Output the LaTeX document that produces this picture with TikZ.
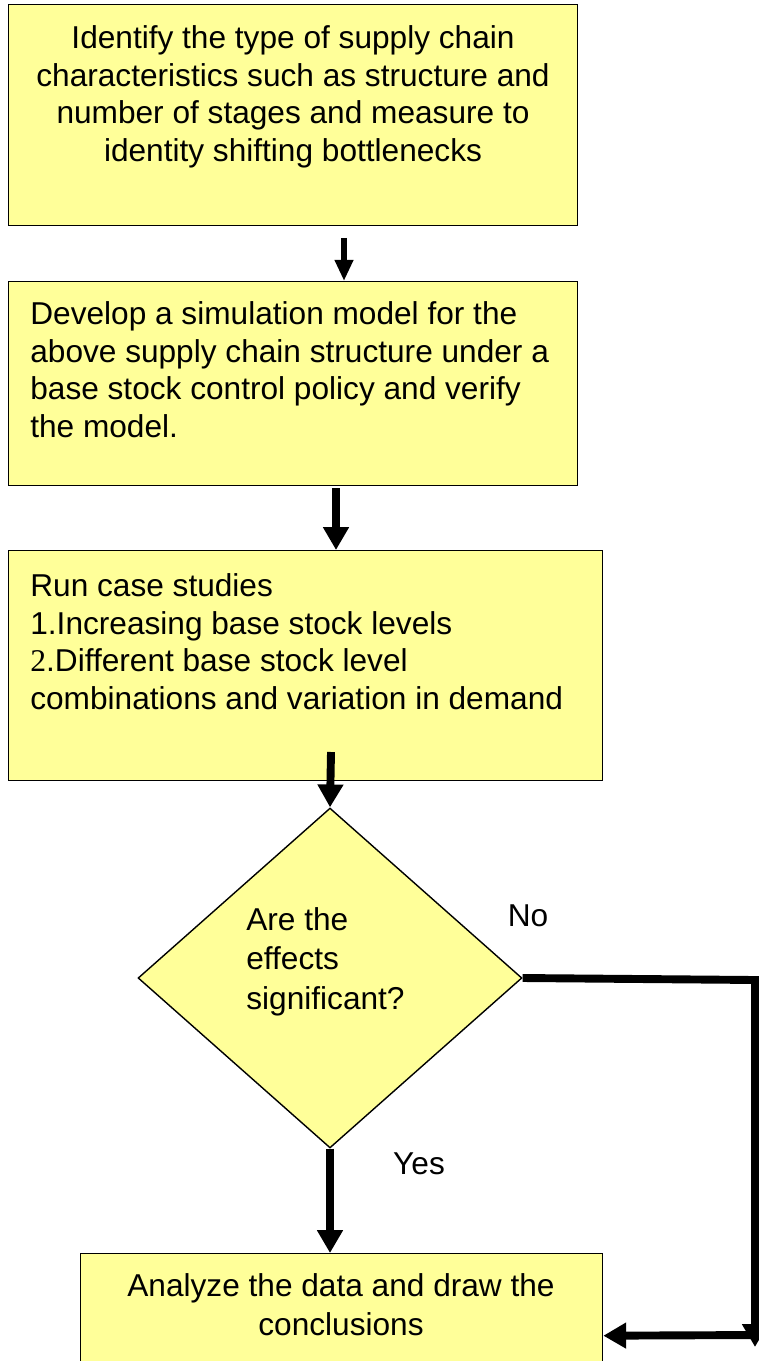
\documentclass[tikz,border=0pt]{standalone}
\usepackage{fontspec}
\setmainfont{Liberation Sans}
\newfontfamily\serifnum{Liberation Serif}
\usetikzlibrary{shapes.geometric,arrows.meta}
\definecolor{boxfill}{RGB}{255,255,153}
\tikzset{
  stage/.style={draw, fill=boxfill, line width=0.8pt, inner sep=0pt, anchor=north west},
  label/.style={inner sep=0pt, font=\fontsize{18pt}{21.5pt}\selectfont},
  flow/.style={line width=4.5pt, -{Triangle[length=13pt,width=14pt]}},
  thinflow/.style={line width=3pt, -{Triangle[length=12pt,width=10pt]}}
}
\begin{document}
\begin{tikzpicture}[x=0.02cm, y=-0.02cm]
    \useasboundingbox (0, 0) rectangle (759, 1361);
    % process boxes
    \node[stage, minimum width=11.38cm, minimum height=4.42cm] (ident) at (8, 4) {};
    \node[stage, minimum width=11.38cm, minimum height=4.08cm] (model) at (8, 281) {};
    \node[stage, minimum width=11.88cm, minimum height=4.6cm] (cases) at (8, 550) {};
    \node[draw, fill=boxfill, line width=0.8pt, shape=diamond, inner sep=0pt,
          minimum width=7.68cm, minimum height=6.8cm] (effects) at (330, 978) {};
    \node[stage, minimum width=10.44cm, minimum height=3.28cm] (concl) at (80, 1253) {};
    % texts
    \node[label, align=center, anchor=north] (identtxt) at (293, 25) {Identify the type of supply chain\\characteristics such as structure and\\number of stages and measure to\\identity shifting bottlenecks};
    \node[label, align=left, anchor=north west] (modeltxt) at (30, 301) {Develop a simulation model for the\\above supply chain structure under a\\base stock control policy and verify\\the model.};
    \node[label, align=left, anchor=north west] (casestxt) at (30, 573) {Run case studies\\1.Increasing base stock levels\\{\serifnum 2}.Different base stock level\\combinations and variation in demand};
    \node[label, align=left, anchor=north west, font=\fontsize{18pt}{22.5pt}\selectfont] (effectstxt) at (246, 907) {Are the\\effects\\significant?};
    \node[label, align=center, anchor=north, font=\fontsize{18pt}{22.5pt}\selectfont] (concltxt) at (341, 1273) {Analyze the data and draw the\\conclusions};
    \node[label] (no) at (528, 916) {No};
    \node[label] (yes) at (419, 1164) {Yes};
    % connectors
    \coordinate (out1) at (344, 238);
    \coordinate (out2) at (336, 488);
    \coordinate (out3) at (331, 752);
    \coordinate (turn) at (755, 980);
    \coordinate (low) at (755, 1347);
    \coordinate (back) at (758, 1335);
    \draw[thinflow] (out1) -- (model.north -| out1);
    \draw[flow] (out2) -- (cases.north -| out2);
    \draw[flow] (out3) -- (effects.north);
    \draw[flow] (effects.south) -- (concl.north -| effects.south);
    \draw[flow, line join=miter] (effects.east) -- (turn) -- (low);
    \draw[flow] (back) -- (concl.east);
\end{tikzpicture}
\end{document}
